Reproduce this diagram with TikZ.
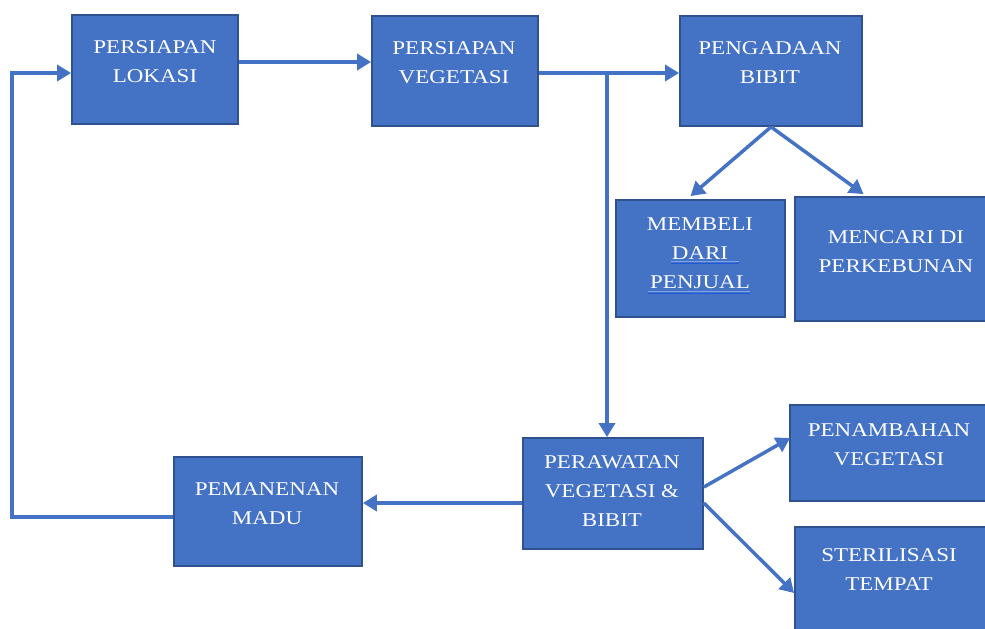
\documentclass[tikz,border=0pt]{standalone}
\usepackage{fontspec}
\setmainfont[FakeStretch=1.18]{Liberation Serif}
\usetikzlibrary{arrows.meta}
\definecolor{boxfill}{HTML}{4472C4}
\definecolor{boxline}{HTML}{2F528F}
\definecolor{arr}{HTML}{4472C4}
\definecolor{squig}{HTML}{2456D8}
\definecolor{squiglight}{HTML}{7FA2EC}
\tikzset{
  box/.style={draw=boxline, line width=1.8pt, fill=boxfill, inner sep=0pt},
  txt/.style={text=white, align=center, inner sep=0pt, font=\fontsize{19.5}{29}\selectfont},
  conn/.style={draw=arr, line width=3.5pt, -{Triangle[length=14pt,width=16pt]}},
  plain/.style={draw=arr, line width=3.5pt},
}
\begin{document}
\begin{tikzpicture}[x=1pt,y=-1pt]
\useasboundingbox (0,0) rectangle (985,629);
% boxes
\node[box, minimum width=166pt, minimum height=109pt] (lok) at (155,69.5) {};
\node[box, minimum width=166pt, minimum height=110pt] (veg) at (455,71) {};
\node[box, minimum width=182pt, minimum height=110pt] (bib) at (771,71) {};
\node[box, minimum width=169pt, minimum height=117pt] (beli) at (700.5,258.5) {};
\node[box, minimum width=193pt, minimum height=124pt] (cari) at (891.5,259) {};
\node[box, minimum width=180pt, minimum height=111pt] (raw) at (613,493.5) {};
\node[box, minimum width=188pt, minimum height=109pt] (panen) at (268,511.5) {};
\node[box, minimum width=198pt, minimum height=96pt] (tambah) at (889,453) {};
\node[box, minimum width=193pt, minimum height=105pt] (steril) at (891.5,579.5) {};
% spell-check underlines
\draw[squiglight, line width=1pt] (671,261.5) -- (739,261.5);
\draw[squig, line width=1.2pt] (671,263.5) -- (739,263.5);
\draw[squiglight, line width=1pt] (648,291.5) -- (750,291.5);
\draw[squig, line width=1.2pt] (648,293.5) -- (750,293.5);
% texts
\node[txt] (tlok) at (155,62) {PERSIAPAN\\LOKASI};
\node[txt] (tveg) at (454,62.5) {PERSIAPAN\\VEGETASI};
\node[txt] (tbib) at (770,63) {PENGADAAN\\BIBIT};
\node[txt] (tbeli) at (700,253.5) {MEMBELI\\DARI\\PENJUAL};
\node[txt] (tcari) at (896,252) {MENCARI DI\\PERKEBUNAN};
\node[txt] (traw) at (612,491.5) {PERAWATAN\\VEGETASI \&\\BIBIT};
\node[txt] (tpanen) at (267,503.5) {PEMANENAN\\MADU};
\node[txt] (ttambah) at (889,445) {PENAMBAHAN\\VEGETASI};
\node[txt] (tsteril) at (889,569.5) {STERILISASI\\TEMPAT};
% connectors
\draw[conn] ([yshift=7.5pt]lok.east) -- ([yshift=7.5pt]lok.east -| veg.west);
\draw[conn] ([yshift=-2pt]veg.east) -- ([yshift=-2pt]veg.east -| bib.west);
\coordinate (br) at ([yshift=-2pt]veg.east -| 607,0);
\draw[conn] (br) -- (br |- raw.north);
\draw[conn] (bib.south) -- ([xshift=-10pt,yshift=3pt]beli.north);
\draw[conn] (bib.south) -- ([xshift=-28pt,yshift=2pt]cari.north);
\draw[conn] ([yshift=6.5pt]raw.east) -- ([xshift=1pt,yshift=15pt]tambah.west);
\draw[conn] ([yshift=-9.5pt]raw.east) -- ([yshift=-13.5pt]steril.west);
\draw[conn] ([yshift=-9.5pt]raw.west) -- ([yshift=-9.5pt]raw.west -| panen.east);
\coordinate (c1) at (12,517);
\coordinate (c2) at (12,73);
\draw[plain] ([yshift=-5.5pt]panen.west) -- (c1) -- (c2);
\draw[conn] ([xshift=-1.75pt]c2) -- (c2 -| lok.west);
\end{tikzpicture}
\end{document}
